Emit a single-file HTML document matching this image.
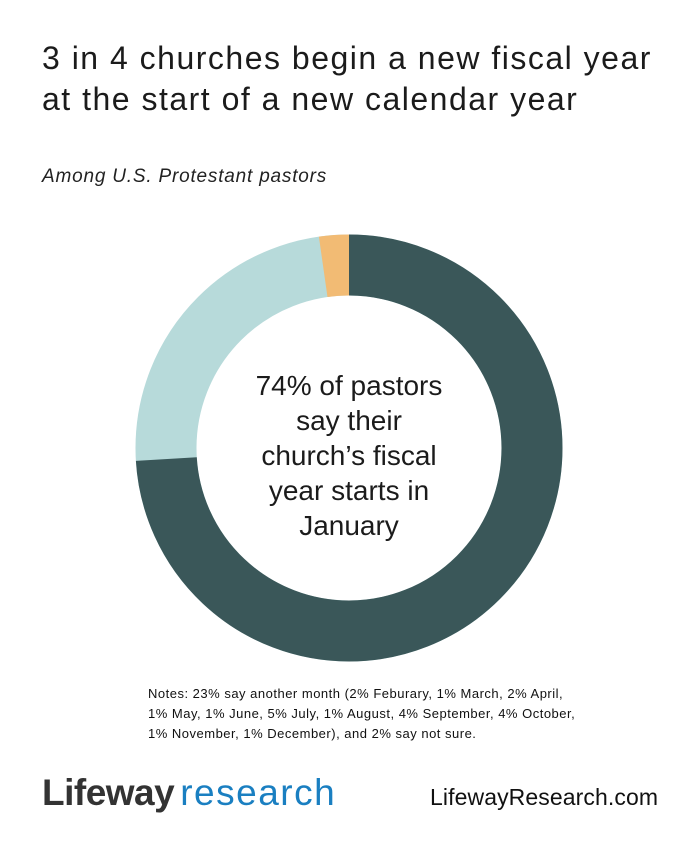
<!DOCTYPE html>
<html><head><style>
body{margin:0;width:700px;height:860px;background:#fff;font-family:"Liberation Sans",sans-serif;color:#1a1a1a;position:relative;overflow:hidden}
.t{position:absolute;left:42px;top:38px;font-size:32px;line-height:41px;color:#1b1b1b;letter-spacing:1.5px;white-space:nowrap}
.s{position:absolute;left:42px;top:166px;font-size:19px;font-style:italic;color:#222;letter-spacing:0.8px}
.c{position:absolute;left:244px;width:210px;top:368px;text-align:center;font-size:28px;line-height:35px;color:#1b1b1b}
.n{position:absolute;left:148px;top:684px;font-size:13px;line-height:20px;color:#111;letter-spacing:0.5px;white-space:nowrap}
.l{position:absolute;left:42px;top:772px;font-size:37px;letter-spacing:-0.5px}
.u{position:absolute;left:430px;top:784px;font-size:23px;color:#111;letter-spacing:0.1px}
</style></head><body>
<div class="t">3 in 4 churches begin a new fiscal year<br>at the start of a new calendar year</div>
<div class="s">Among U.S. Protestant pastors</div>
<svg style="position:absolute;left:0;top:0" width="700" height="860">
<g transform="translate(349,448) rotate(-90)">
<circle r="183" fill="none" stroke="#b7dada" stroke-width="61"/>
<circle r="183" fill="none" stroke="#3a5759" stroke-width="61" stroke-dasharray="850.9 2000"/>
<circle r="183" fill="none" stroke="#f2bb74" stroke-width="61" stroke-dasharray="0 1123.4 26.5 2000"/>
</g></svg>
<div class="c">74% of pastors say their church’s fiscal year starts in January</div>
<div class="n">Notes: 23% say another month (2% Feburary, 1% March, 2% April,<br>1% May, 1% June, 5% July, 1% August, 4% September, 4% October,<br>1% November, 1% December), and 2% say not sure.</div>
<div class="l"><b style="color:#333">Lifeway</b><span style="color:#1a7fc1;letter-spacing:1.5px;margin-left:6px">research</span></div>
<div class="u">LifewayResearch.com</div>
</body></html>
